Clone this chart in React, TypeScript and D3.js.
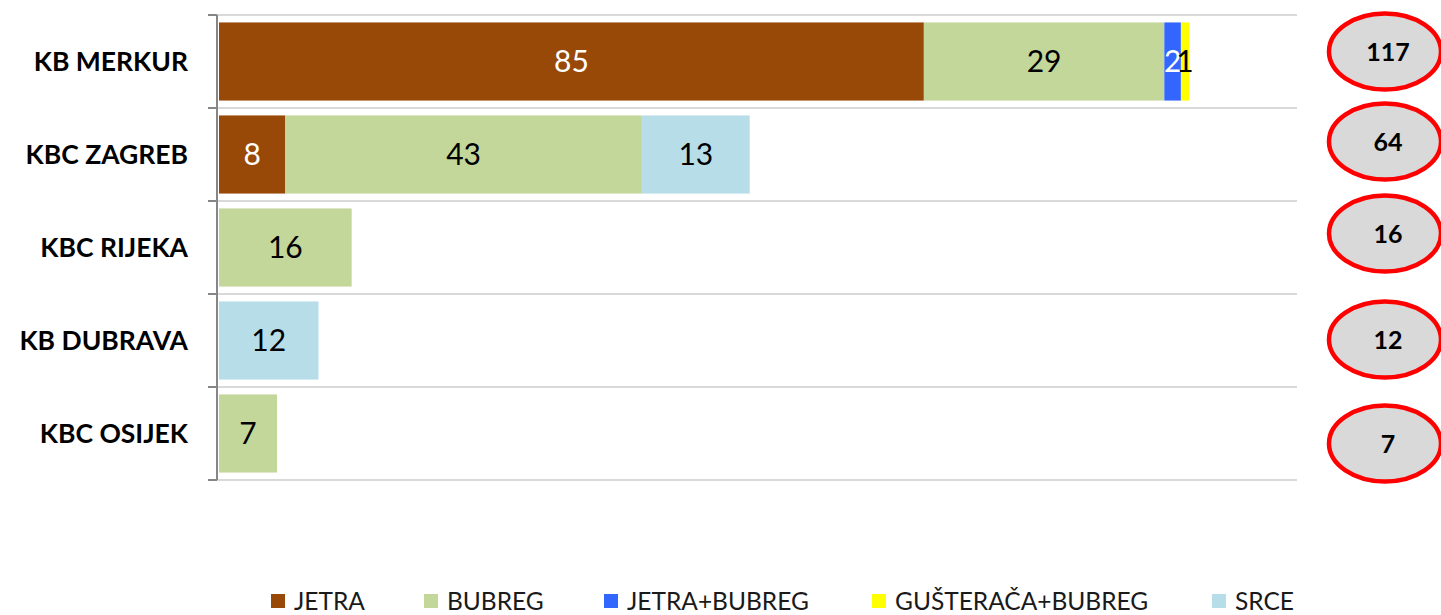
import { useEffect, useRef } from "react";
import * as d3 from "d3";

const categories = ["KB MERKUR", "KBC ZAGREB", "KBC RIJEKA", "KB DUBRAVA", "KBC OSIJEK"];
const seriesNames = ["JETRA", "BUBREG", "JETRA+BUBREG", "GUŠTERAČA+BUBREG", "SRCE"];
const jetra = [85, 8, 0, 0, 0];
const bubreg = [29, 43, 16, 0, 7];
const jetraBubreg = [2, 0, 0, 0, 0];
const gusteracaBubreg = [1, 0, 0, 0, 0];
const srce = [0, 13, 0, 12, 0];
const totals = [117, 64, 16, 12, 7];

const colors = ["#984807", "#c4d79b", "#3366ff", "#ffff00", "#b7dde8"];
const labelColors = ["#ffffff", "#000000", "#ffffff", "#000000", "#000000"];
// hand-placed callouts in the original sit a little off the band centres
const calloutNudge = [-10, -13, -14, -1, 10];

const W = 1441;
const H = 615;
const FONT = "Lato, 'Open Sans', sans-serif";

export default function App() {
  const ref = useRef<SVGSVGElement | null>(null);

  useEffect(() => {
    if (!ref.current) return;
    const svg = d3.select(ref.current);
    svg.selectAll("*").remove();

    const left = 217;
    const right = 1297;
    const top = 15;
    const bottom = 480;

    const y = d3
      .scaleBand<string>()
      .domain(categories)
      .range([top, bottom])
      .paddingInner(0.16)
      .paddingOuter(0.08);
    const x = d3.scaleLinear().domain([0, 130]).range([left + 2, right]);

    const rows = categories.map((c, i) => ({
      cat: c,
      vals: [jetra[i], bubreg[i], jetraBubreg[i], gusteracaBubreg[i], srce[i]],
    }));

    // MARK: gridlines at band boundaries
    const step = y.step();
    const bounds = d3.range(categories.length + 1).map((i) => top + i * step);
    svg
      .append("g")
      .selectAll("line")
      .data(bounds)
      .join("line")
      .attr("x1", left)
      .attr("x2", right)
      .attr("y1", (d) => d)
      .attr("y2", (d) => d)
      .attr("stroke", "#d9d9d9")
      .attr("stroke-width", 2);

    // MARK: stacked bars
    const g = svg.append("g");
    rows.forEach((row) => {
      let acc = 0;
      row.vals.forEach((v, k) => {
        if (v === 0) return;
        const x0 = x(acc);
        const x1 = x(acc + v);
        acc += v;
        g.append("rect")
          .attr("x", x0)
          .attr("y", y(row.cat)!)
          .attr("width", x1 - x0)
          .attr("height", y.bandwidth())
          .attr("fill", colors[k]);
        g.append("text")
          .attr("x", (x0 + x1) / 2)
          .attr("y", y(row.cat)! + y.bandwidth() / 2)
          .attr("dy", "0.36em")
          .attr("text-anchor", "middle")
          .attr("font-family", FONT)
          .attr("font-size", 30)
          .attr("fill", labelColors[k])
          .text(v);
      });
    });

    // MARK: axis
    svg
      .append("line")
      .attr("x1", left)
      .attr("x2", left)
      .attr("y1", top)
      .attr("y2", bottom)
      .attr("stroke", "#868686")
      .attr("stroke-width", 2);
    svg
      .append("g")
      .selectAll("line")
      .data(bounds)
      .join("line")
      .attr("x1", left - 9)
      .attr("x2", left)
      .attr("y1", (d) => d)
      .attr("y2", (d) => d)
      .attr("stroke", "#868686")
      .attr("stroke-width", 2);

    svg
      .append("g")
      .selectAll("text")
      .data(categories)
      .join("text")
      .attr("x", 188)
      .attr("y", (d) => y(d)! + y.bandwidth() / 2)
      .attr("dy", "0.36em")
      .attr("text-anchor", "end")
      .attr("font-family", FONT)
      .attr("font-weight", "bold")
      .attr("font-size", 26.5)
      .attr("fill", "#000")
      .text((d) => d);

    // MARK: total callouts
    const cg = svg.append("g");
    categories.forEach((c, i) => {
      const cy = y(c)! + y.bandwidth() / 2 + calloutNudge[i];
      cg.append("ellipse")
        .attr("cx", 1385)
        .attr("cy", cy)
        .attr("rx", 56)
        .attr("ry", 38)
        .attr("fill", "#d9d9d9")
        .attr("stroke", "#ff0000")
        .attr("stroke-width", 4.5);
      cg.append("text")
        .attr("x", 1388)
        .attr("y", cy)
        .attr("dy", "0.36em")
        .attr("text-anchor", "middle")
        .attr("font-family", FONT)
        .attr("font-weight", "bold")
        .attr("font-size", 25)
        .attr("fill", "#000")
        .text(totals[i]);
    });

    // MARK: legend
    const legendX = [271, 424, 604, 872, 1212];
    const lg = svg.append("g");
    seriesNames.forEach((name, k) => {
      lg.append("rect")
        .attr("x", legendX[k])
        .attr("y", 594)
        .attr("width", 14)
        .attr("height", 14)
        .attr("fill", colors[k]);
      lg.append("text")
        .attr("x", legendX[k] + 23)
        .attr("y", 601)
        .attr("dy", "0.36em")
        .attr("font-family", FONT)
        .attr("font-size", 24.5)
        .attr("fill", "#1a1a1a")
        .text(name);
    });
  }, []);

  return (
    <svg
      ref={ref}
      width={W}
      height={H}
      style={{ position: "absolute", left: 0, top: 0, background: "#fff" }}
    />
  );
}
